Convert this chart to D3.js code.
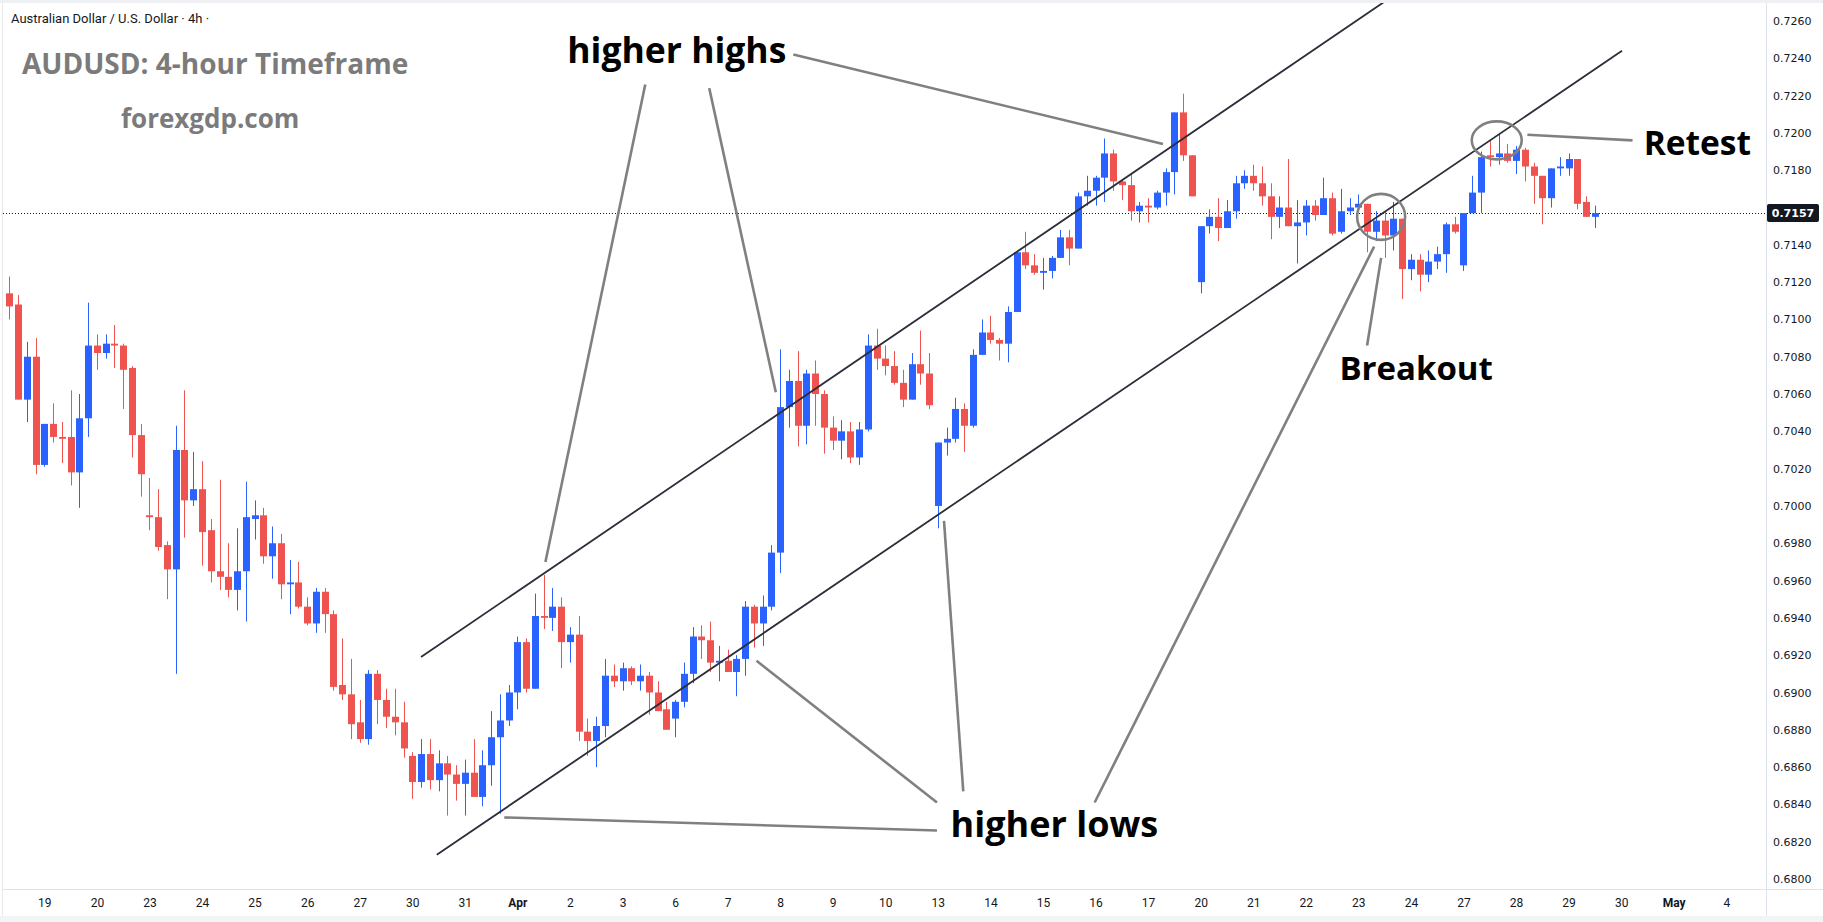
<!DOCTYPE html>
<html>
<head>
<meta charset="utf-8">
<script src="https://cdn.jsdelivr.net/npm/d3@7/dist/d3.min.js"></script>
<style>
  body { margin: 0; background: #ffffff; }
  svg { display: block; }
</style>
</head>
<body>
<svg id="chart"></svg>
<script>
// AUDUSD 4h candles (index 0 = first bar on the left)
var opens = [
  0.7114,0.7108,0.7057,0.7080,0.7022,0.7044,0.7037,0.7037,0.7018,0.7047,
  0.7086,0.7082,0.7087,0.7086,0.7074,0.7038,0.6995,0.6994,0.6979,0.6966,
  0.7030,0.7003,0.7009,0.6987,0.6965,0.6962,0.6955,0.6965,0.6993,0.6995,
  0.6973,0.6980,0.6958,0.6959,0.6946,0.6937,0.6954,0.6942,0.6904,0.6899,
  0.6884,0.6875,0.6910,0.6896,0.6887,0.6884,0.6866,0.6852,0.6867,0.6853,
  0.6862,0.6856,0.6851,0.6857,0.6844,0.6861,0.6876,0.6885,0.6900,0.6927,
  0.6902,0.6941,0.6940,0.6946,0.6927,0.6931,0.6879,0.6874,0.6882,0.6909,
  0.6906,0.6913,0.6906,0.6909,0.6900,0.6891,0.6886,0.6895,0.6910,0.6930,
  0.6928,0.6916,0.6917,0.6911,0.6918,0.6946,0.6937,0.6946,0.6975,0.7053,
  0.7067,0.7043,0.7071,0.7060,0.7042,0.7035,0.7040,0.7026,0.7041,0.7086,
  0.7079,0.7075,0.7066,0.7057,0.7076,0.7071,0.7000,0.7034,0.7036,0.7052,
  0.7043,0.7081,0.7093,0.7089,0.7087,0.7104,0.7136,0.7129,0.7125,0.7126,
  0.7133,0.7144,0.7138,0.7166,0.7169,0.7176,0.7189,0.7174,0.7172,0.7158,
  0.7161,0.7160,0.7168,0.7179,0.7211,0.7188,0.7120,0.7150,0.7155,0.7149,
  0.7158,0.7173,0.7177,0.7173,0.7166,0.7155,0.7160,0.7150,0.7152,0.7161,
  0.7156,0.7165,0.7147,0.7158,0.7160,0.7162,0.7147,0.7153,0.7145,0.7154,
  0.7127,0.7132,0.7124,0.7131,0.7135,0.7151,0.7129,0.7157,0.7168,0.7188,
  0.7187,0.7189,0.7185,0.7191,0.7182,0.7177,0.7165,0.7181,0.7181,0.7186,
  0.7163,0.7155
];
var highs = [
  0.7123,0.7113,0.7088,0.7090,0.7044,0.7055,0.7045,0.7062,0.7060,0.7109,
  0.7092,0.7092,0.7097,0.7087,0.7075,0.7044,0.7015,0.7009,0.6981,0.7043,
  0.7062,0.7029,0.7024,0.6993,0.7014,0.6980,0.6988,0.7013,0.7003,0.6999,
  0.6989,0.6985,0.6971,0.6970,0.6951,0.6956,0.6956,0.6944,0.6929,0.6918,
  0.6896,0.6912,0.6912,0.6902,0.6902,0.6895,0.6868,0.6875,0.6875,0.6869,
  0.6866,0.6861,0.6864,0.6875,0.6869,0.6890,0.6899,0.6904,0.6930,0.6929,
  0.6953,0.6963,0.6956,0.6951,0.6935,0.6941,0.6886,0.6887,0.6918,0.6915,
  0.6916,0.6914,0.6915,0.6911,0.6906,0.6895,0.6896,0.6916,0.6935,0.6936,
  0.6938,0.6925,0.6923,0.6920,0.6949,0.6947,0.6952,0.6979,0.7084,0.7073,
  0.7083,0.7073,0.7078,0.7062,0.7048,0.7046,0.7045,0.7045,0.7092,0.7095,
  0.7086,0.7083,0.7073,0.7082,0.7094,0.7082,0.7034,0.7042,0.7058,0.7055,
  0.7084,0.7100,0.7102,0.7090,0.7107,0.7136,0.7147,0.7135,0.7133,0.7134,
  0.7148,0.7148,0.7168,0.7177,0.7177,0.7197,0.7191,0.7175,0.7178,0.7163,
  0.7165,0.7169,0.7181,0.7211,0.7221,0.7188,0.7150,0.7159,0.7165,0.7164,
  0.7177,0.7180,0.7183,0.7182,0.7173,0.7166,0.7186,0.7164,0.7164,0.7164,
  0.7176,0.7168,0.7170,0.7165,0.7167,0.7162,0.7158,0.7158,0.7163,0.7154,
  0.7135,0.7135,0.7137,0.7139,0.7152,0.7155,0.7157,0.7177,0.7190,0.7196,
  0.7200,0.7194,0.7193,0.7192,0.7184,0.7177,0.7181,0.7187,0.7189,0.7186,
  0.7166,0.7161
];
var lows = [
  0.7100,0.7057,0.7045,0.7017,0.7021,0.7034,0.7023,0.7011,0.6999,0.7037,
  0.7073,0.7079,0.7074,0.7052,0.7026,0.7005,0.6987,0.6976,0.6950,0.6910,
  0.6983,0.7000,0.6968,0.6959,0.6955,0.6951,0.6944,0.6938,0.6982,0.6969,
  0.6961,0.6950,0.6942,0.6945,0.6936,0.6932,0.6932,0.6901,0.6896,0.6875,
  0.6873,0.6872,0.6883,0.6881,0.6877,0.6865,0.6843,0.6849,0.6848,0.6847,
  0.6834,0.6842,0.6834,0.6844,0.6839,0.6850,0.6835,0.6882,0.6891,0.6900,
  0.6902,0.6934,0.6933,0.6913,0.6916,0.6874,0.6866,0.6860,0.6876,0.6903,
  0.6901,0.6904,0.6901,0.6888,0.6890,0.6880,0.6876,0.6892,0.6905,0.6918,
  0.6911,0.6906,0.6911,0.6898,0.6909,0.6924,0.6925,0.6944,0.6964,0.7042,
  0.7032,0.7033,0.7043,0.7028,0.7030,0.7025,0.7023,0.7022,0.7040,0.7073,
  0.7070,0.7065,0.7053,0.7057,0.7065,0.7052,0.6988,0.7027,0.7034,0.7029,
  0.7042,0.7081,0.7087,0.7078,0.7077,0.7104,0.7127,0.7124,0.7116,0.7122,
  0.7133,0.7129,0.7138,0.7161,0.7161,0.7163,0.7169,0.7164,0.7153,0.7152,
  0.7152,0.7159,0.7161,0.7167,0.7185,0.7166,0.7114,0.7146,0.7142,0.7149,
  0.7154,0.7170,0.7169,0.7161,0.7143,0.7149,0.7150,0.7130,0.7145,0.7153,
  0.7156,0.7145,0.7146,0.7156,0.7158,0.7136,0.7142,0.7133,0.7137,0.7111,
  0.7121,0.7115,0.7120,0.7127,0.7125,0.7146,0.7126,0.7157,0.7157,0.7182,
  0.7183,0.7184,0.7178,0.7174,0.7162,0.7151,0.7160,0.7177,0.7177,0.7159,
  0.7155,0.7149
];
var closes = [
  0.7107,0.7057,0.7080,0.7022,0.7044,0.7037,0.7036,0.7018,0.7047,0.7086,
  0.7082,0.7087,0.7086,0.7073,0.7038,0.7017,0.6994,0.6978,0.6966,0.7030,
  0.7003,0.7009,0.6986,0.6965,0.6962,0.6955,0.6965,0.6994,0.6995,0.6973,
  0.6980,0.6958,0.6959,0.6946,0.6937,0.6954,0.6942,0.6903,0.6899,0.6883,
  0.6875,0.6910,0.6896,0.6887,0.6884,0.6870,0.6852,0.6867,0.6853,0.6862,
  0.6856,0.6851,0.6857,0.6844,0.6861,0.6876,0.6885,0.6900,0.6927,0.6902,
  0.6941,0.6940,0.6946,0.6927,0.6931,0.6879,0.6874,0.6882,0.6909,0.6906,
  0.6913,0.6906,0.6909,0.6900,0.6890,0.6880,0.6895,0.6910,0.6930,0.6928,
  0.6916,0.6917,0.6911,0.6918,0.6946,0.6937,0.6946,0.6975,0.7053,0.7067,
  0.7043,0.7071,0.7060,0.7042,0.7035,0.7040,0.7026,0.7041,0.7086,0.7079,
  0.7075,0.7066,0.7057,0.7076,0.7071,0.7054,0.7034,0.7036,0.7052,0.7043,
  0.7081,0.7093,0.7089,0.7087,0.7104,0.7136,0.7129,0.7125,0.7126,0.7133,
  0.7144,0.7138,0.7166,0.7169,0.7176,0.7189,0.7174,0.7172,0.7158,0.7161,
  0.7160,0.7168,0.7179,0.7211,0.7188,0.7166,0.7150,0.7155,0.7149,0.7158,
  0.7173,0.7177,0.7173,0.7166,0.7155,0.7160,0.7150,0.7152,0.7161,0.7156,
  0.7165,0.7146,0.7158,0.7160,0.7162,0.7147,0.7153,0.7145,0.7154,0.7127,
  0.7132,0.7124,0.7131,0.7135,0.7151,0.7147,0.7157,0.7168,0.7187,0.7187,
  0.7189,0.7185,0.7191,0.7182,0.7177,0.7165,0.7181,0.7182,0.7186,0.7162,
  0.7155,0.7157
];

// time axis: bar index where each day starts, and its label
var dayTicks = [4,10,16,22,28,34,40,46,52,58,64,70,76,82,88,94,100,106,112,118,124,130,136,142,148,154,160,166,172,178,184,190,196];
var dayLabels = ["19","20","23","24","25","26","27","30","31","Apr","2","3","6","7","8","9","10","13","14","15","16","17","20","21","22","23","24","27","28","29","30","May","4"];

var priceTicks = [0.6800,0.6820,0.6840,0.6860,0.6880,0.6900,0.6920,0.6940,0.6960,0.6980,0.7000,0.7020,0.7040,0.7060,0.7080,0.7100,0.7120,0.7140,0.7160,0.7180,0.7200,0.7220,0.7240,0.7260];
var lastPrice = 0.7157;

// channel lines, [bar index, price]
var upperChannel = [[47.0, 0.6919], [157.5, 0.7272]];
var lowerChannel = [[48.8, 0.6813], [184.1, 0.7244]];

// grey pointer lines from the notes, [bar index, price]
var pointers = [
  [[72.6, 0.7226], [61.2, 0.6970]],
  [[79.9, 0.7224], [87.5, 0.7061]],
  [[89.5, 0.7242], [131.7, 0.7194]],
  [[105.9, 0.6826], [56.5, 0.6833]],
  [[105.9, 0.6841], [85.3, 0.6917]],
  [[108.9, 0.6847], [106.7, 0.6992]],
  [[123.9, 0.6841], [155.8, 0.7139]],
  [[155.0, 0.7086], [156.6, 0.7133]],
  [[185.3, 0.7196], [173.3, 0.7199]]
];
var rings = [[156.6, 0.7155], [169.8, 0.7196]];
var noteTexts = ["higher highs", "higher lows", "Breakout", "Retest"];
var noteAnchors = [[76.2, 0.72375], [119.3, 0.68226], [160.6, 0.70676], [192.7, 0.71882]];

var svgWidth = 1823;
var svgHeight = 922;
var paneRight = 1766;
var paneBottom = 889;

var svg = d3.select('#chart')
    .attr('width', svgWidth)
    .attr('height', svgHeight)
    .style('font-family', 'Roboto, "Liberation Sans", sans-serif');

// frame
svg.append('rect').attr('x', 0).attr('y', 0).attr('width', svgWidth).attr('height', svgHeight).attr('fill', '#ffffff');
svg.append('rect').attr('x', 0).attr('y', 0).attr('width', svgWidth).attr('height', 3).attr('fill', '#eef0f3');
svg.append('rect').attr('x', 0).attr('y', svgHeight - 6).attr('width', svgWidth).attr('height', 6).attr('fill', '#f3f4f6');
svg.append('line').attr('x1', 2.5).attr('x2', 2.5).attr('y1', 3).attr('y2', svgHeight - 6).attr('stroke', '#e6e8ec');
svg.append('line').attr('x1', paneRight + 0.5).attr('x2', paneRight + 0.5).attr('y1', 3).attr('y2', svgHeight - 6).attr('stroke', '#e0e3eb');
svg.append('line').attr('x1', 3).attr('x2', svgWidth).attr('y1', paneBottom + 0.5).attr('y2', paneBottom + 0.5).attr('stroke', '#e0e3eb');

svg.append('clipPath').attr('id', 'pane')
  .append('rect').attr('x', 3).attr('y', 3).attr('width', paneRight - 3).attr('height', paneBottom - 3);

var xScale = d3.scaleLinear()
    .domain([0, 181])
    .range([9.3, 9.3 + 8.76 * 181]);

var yScale = d3.scaleLinear()
    .domain([0.6800, 0.7260])
    .range([879, 21]);

var candles = d3.range(opens.length).map(function(i){
    return {i: i, o: opens[i], h: highs[i], l: lows[i], c: closes[i]};
});

function colorOf(d){
    return d.c >= d.o ? '#2962ff' : '#ef5350';
}

var pane = svg.append('g').attr('clip-path', 'url(#pane)');

// last price dotted line
pane.append('line')
    .attr('x1', 3).attr('x2', paneRight)
    .attr('y1', Math.round(yScale(lastPrice)) + 0.5)
    .attr('y2', Math.round(yScale(lastPrice)) + 0.5)
    .attr('stroke', '#131722')
    .attr('stroke-dasharray', '1,2');

var bars = pane.append('g');

bars.selectAll('line.wick')
    .data(candles)
    .enter()
    .append('line')
    .classed('wick', true)
    .attr('x1', function(d){ return Math.round(xScale(d.i)) + 0.5; })
    .attr('x2', function(d){ return Math.round(xScale(d.i)) + 0.5; })
    .attr('y1', function(d){ return yScale(d.h); })
    .attr('y2', function(d){ return yScale(d.l); })
    .attr('stroke', colorOf)
    .attr('stroke-width', 1);

bars.selectAll('rect.body')
    .data(candles)
    .enter()
    .append('rect')
    .classed('body', true)
    .attr('x', function(d){ return Math.round(xScale(d.i)) - 3; })
    .attr('width', 7)
    .attr('y', function(d){ return yScale(Math.max(d.o, d.c)); })
    .attr('height', function(d){ return Math.max(1, Math.abs(yScale(d.o) - yScale(d.c))); })
    .attr('fill', colorOf);

// channel
var line = d3.line()
    .x(function(d){ return xScale(d[0]); })
    .y(function(d){ return yScale(d[1]); });

pane.selectAll('.channel')
    .data([upperChannel, lowerChannel])
    .enter()
    .append('path')
    .attr('d', line)
    .attr('fill', 'none')
    .attr('stroke', '#2a2e39')
    .attr('stroke-width', 1.8);

// annotations
pane.selectAll('.pointer')
    .data(pointers)
    .enter()
    .append('path')
    .attr('d', line)
    .attr('fill', 'none')
    .attr('stroke', '#808080')
    .attr('stroke-width', 2.6);

pane.selectAll('.ring')
    .data(rings)
    .enter()
    .append('ellipse')
    .attr('cx', function(d){ return xScale(d[0]); })
    .attr('cy', function(d){ return yScale(d[1]); })
    .attr('rx', function(d, k){ return k === 0 ? 24 : 25; })
    .attr('ry', function(d, k){ return k === 0 ? 23 : 19; })
    .attr('fill', 'none')
    .attr('stroke', '#808080')
    .attr('stroke-width', 2.6);

var noteSizes = [35.5, 36, 33, 33.5];
pane.selectAll('.note')
    .data(noteTexts)
    .enter()
    .append('text')
    .attr('x', function(d, k){ return xScale(noteAnchors[k][0]); })
    .attr('y', function(d, k){ return yScale(noteAnchors[k][1]); })
    .attr('text-anchor', 'middle')
    .style('font-family', '"Open Sans", sans-serif')
    .style('font-weight', 'bold')
    .style('font-size', function(d, k){ return noteSizes[k] + 'px'; })
    .attr('fill', '#000000')
    .text(function(d){ return d; });

// header texts
svg.append('text')
    .attr('x', 11).attr('y', 23)
    .style('font-size', '13px')
    .attr('fill', '#131722')
    .text('Australian Dollar / U.S. Dollar \u00b7 4h \u00b7');

svg.append('text')
    .attr('x', 22).attr('y', 74)
    .style('font-family', '"Open Sans", sans-serif')
    .style('font-weight', 'bold')
    .style('font-size', '28px')
    .attr('fill', '#7b7b7b')
    .text('AUDUSD: 4-hour Timeframe');

svg.append('text')
    .attr('x', 121).attr('y', 128)
    .style('font-family', '"Open Sans", sans-serif')
    .style('font-weight', 'bold')
    .style('font-size', '26px')
    .attr('fill', '#7b7b7b')
    .text('forexgdp.com');

// price axis (a label hidden by the last price tag is not drawn)
var yAxis = d3.axisRight(yScale)
    .tickValues(priceTicks.filter(function(p){
        return Math.abs(yScale(p) - yScale(lastPrice)) > 12;
    }))
    .tickSize(0)
    .tickPadding(7)
    .tickFormat(d3.format('.4f'));

var yAxisG = svg.append('g')
    .attr('transform', 'translate(' + paneRight + ',0)')
    .call(yAxis);
yAxisG.select('.domain').remove();
yAxisG.selectAll('text')
    .style('font-family', '"DejaVu Sans", sans-serif')
    .style('font-size', '11px')
    .attr('fill', '#131722');

// time axis
var xAxis = d3.axisBottom(xScale)
    .tickValues(dayTicks)
    .tickSize(0)
    .tickPadding(9)
    .tickFormat(function(d, k){ return dayLabels[k]; });

var xAxisG = svg.append('g')
    .attr('transform', 'translate(0,' + paneBottom + ')')
    .call(xAxis);
xAxisG.select('.domain').remove();
xAxisG.selectAll('text')
    .style('font-family', 'Roboto, sans-serif')
    .style('font-size', '12px')
    .style('font-weight', function(d, k){ return isNaN(+dayLabels[k]) ? 'bold' : 'normal'; })
    .attr('fill', '#131722');

// last price tag
var tag = svg.append('g')
    .attr('transform', 'translate(' + (paneRight + 1) + ',' + yScale(lastPrice) + ')');
tag.append('rect')
    .attr('x', 0).attr('y', -9)
    .attr('width', 52).attr('height', 18)
    .attr('rx', 2)
    .attr('fill', '#131722');
tag.append('text')
    .attr('x', 26).attr('y', 4)
    .attr('text-anchor', 'middle')
    .style('font-family', '"DejaVu Sans", sans-serif')
    .style('font-size', '11px')
    .style('font-weight', 'bold')
    .attr('fill', '#ffffff')
    .text(d3.format('.4f')(lastPrice));
</script>
</body>
</html>
